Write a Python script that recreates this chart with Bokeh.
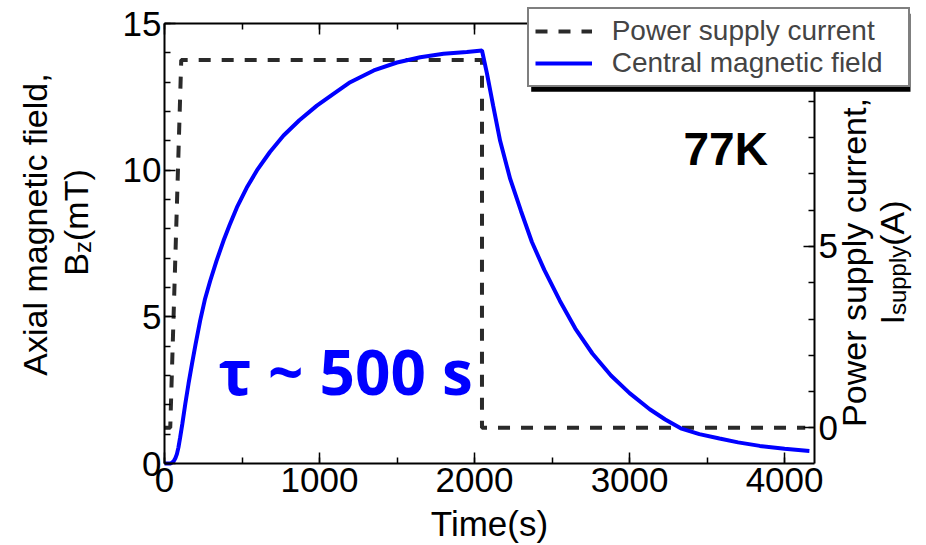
import math
from bokeh.plotting import figure
from bokeh.models import (Range1d, LinearAxis, SingleIntervalTicker, Label,
                          Legend, LegendItem, BoxAnnotation)
from bokeh.embed import file_html
from bokeh.resources import INLINE

# ---------------- data ----------------
field_time = [0, 40, 58, 70, 80, 90, 101, 115, 134, 155, 177, 200, 230, 260,
              295, 335, 381, 420, 467, 530, 596, 680, 768, 870, 983, 1090,
              1198, 1350, 1500, 1650, 1800, 1950, 2048,
              2080, 2120, 2165, 2230, 2300, 2370, 2450, 2550, 2650, 2760,
              2880, 3000, 3130, 3230, 3330, 3450, 3580, 3700, 3840, 4000, 4160]
field_mT = [0, 0.0, 0.07, 0.18, 0.32, 0.55, 0.89, 1.35, 2.03, 2.72, 3.39,
            4.05, 4.87, 5.58, 6.23, 6.9, 7.6, 8.13, 8.73, 9.4, 9.99, 10.62,
            11.18, 11.7, 12.2, 12.6, 13.0, 13.4, 13.67, 13.85, 13.97, 14.03,
            14.08,
            13.3, 12.2, 11.0, 9.7, 8.6, 7.55, 6.6, 5.55, 4.6, 3.75, 3.0, 2.4,
            1.85, 1.5, 1.2, 1.0, 0.85, 0.72, 0.6, 0.5, 0.43]
current_time = [0, 37, 108, 2048, 2048, 4133]
current_A = [0, 0, 10.14, 10.14, 0, 0]

time_limits = (0, 4193)
field_limits = (0, 15)
current_limits = (-0.985, 11.15)
x_ticks_major = 1000
left_ticks_major = 5
right_ticks_major = 5

legend_labels = ["Power supply current", "Central magnetic field"]
annotation_tau = "τ ~ 500 s"
annotation_temp = "77K"

# ---------------- geometry of the axes box on the page ----------------
W, H = 926, 545
BOX_L, BOX_R, BOX_T, BOX_B = 164.0, 814.0, 23.0, 463.0
XS = (BOX_R - BOX_L) / (time_limits[1] - time_limits[0])
YS = (BOX_B - BOX_T) / (field_limits[1] - field_limits[0])
RS = (BOX_B - BOX_T) / (current_limits[1] - current_limits[0])

x_rng = Range1d(time_limits[0] - BOX_L / XS, time_limits[1] + (W - BOX_R) / XS)
y_rng = Range1d(field_limits[0] - (H - BOX_B) / YS, field_limits[1] + BOX_T / YS)
r_rng = Range1d(current_limits[0] - (H - BOX_B) / RS, current_limits[1] + BOX_T / RS)

p = figure(width=W, height=H, output_backend="svg", toolbar_location=None,
           x_range=x_rng, y_range=y_rng, x_axis_type=None, y_axis_type=None,
           min_border=0)
p.extra_y_ranges = {"cur": r_rng}
p.xgrid.visible = False
p.ygrid.visible = False
p.outline_line_color = None
p.background_fill_color = "white"
p.border_fill_color = "white"

FONT = "Liberation Sans"


def style_axis(ax, labels=True, standoff=3):
    ax.axis_line_width = 2
    ax.axis_line_color = "black"
    ax.major_tick_in = 11
    ax.major_tick_out = 0
    ax.minor_tick_in = 6
    ax.minor_tick_out = 0
    ax.major_tick_line_width = 1.5
    ax.minor_tick_line_width = 1.5
    ax.major_tick_line_color = "black"
    ax.minor_tick_line_color = "black"
    ax.major_label_text_font = FONT
    ax.major_label_text_color = "black"
    ax.major_label_standoff = standoff
    if labels:
        ax.major_label_text_font_size = "35px"
    else:
        ax.major_label_text_font_size = "0px"
        ax.major_label_text_alpha = 0


xa = LinearAxis(ticker=SingleIntervalTicker(interval=x_ticks_major, num_minor_ticks=2),
                fixed_location=field_limits[0], bounds=time_limits)
style_axis(xa, standoff=4)
xa.axis_label = "Time(s)"
xa.axis_label_text_font = FONT
xa.axis_label_text_font_style = "normal"
xa.axis_label_text_font_size = "35px"
xa.axis_label_text_color = "black"
xa.axis_label_standoff = 9
p.add_layout(xa, "below")

ta = LinearAxis(ticker=SingleIntervalTicker(interval=x_ticks_major, num_minor_ticks=2),
                fixed_location=field_limits[1], bounds=time_limits)
style_axis(ta, labels=False, standoff=0)
p.add_layout(ta, "above")

ya = LinearAxis(ticker=SingleIntervalTicker(interval=left_ticks_major, num_minor_ticks=5),
                fixed_location=time_limits[0], bounds=field_limits)
style_axis(ya, standoff=3)
p.add_layout(ya, "left")

ra = LinearAxis(y_range_name="cur",
                ticker=SingleIntervalTicker(interval=right_ticks_major, num_minor_ticks=5),
                fixed_location=time_limits[1], bounds=current_limits)
style_axis(ra, standoff=4)
p.add_layout(ra, "right")

# ---------------- glyphs ----------------
r_cur = p.line(current_time, current_A, y_range_name="cur",
               line_color="#2a2a2a", line_width=4, line_dash="12 11")
r_fld = p.line(field_time, field_mT, line_color="#0000ff", line_width=4)


# helpers: convert page pixel positions to data units
def tx(px):
    return time_limits[0] + (px - BOX_L) / XS


def ty(py):
    return field_limits[0] + (BOX_B - py) / YS


# ---------------- legend ----------------
shadow = BoxAnnotation(left=tx(530.7), right=tx(910), top=ty(13.3), bottom=ty(91.3),
                       fill_color="black", fill_alpha=1, line_alpha=0)
p.add_layout(shadow)

legend = Legend(items=[LegendItem(label=legend_labels[0], renderers=[r_cur]),
                       LegendItem(label=legend_labels[1], renderers=[r_fld])],
                location=(526.7, H - 87.3), padding=6, spacing=0, margin=0,
                glyph_width=57, glyph_height=26, label_height=26,
                label_standoff=20, label_width=290,
                label_text_font=FONT, label_text_font_size="28px",
                border_line_color="black", border_line_width=2,
                background_fill_color="white", background_fill_alpha=1)
p.add_layout(legend)


# ---------------- annotations ----------------
def lab(px, py, text, size, align="left", angle=0.0, font=FONT, style="normal",
        color="black"):
    p.add_layout(Label(x=tx(px), y=ty(py), text=text, angle=angle,
                       text_font=font, text_font_style=style,
                       text_font_size=size, text_color=color,
                       text_align=align, text_baseline="alphabetic"))


lab(218, 370, annotation_tau, "62px", font="Open Sans", style="bold", color="#0000ff")
lab(683, 148, annotation_temp, "46px", style="bold")

ANG = math.pi / 2
# left axis label (two lines, rotated)
lab(34, 224, "Axial magnetic field,", "34px", align="center", angle=ANG)
lab(75.5, 275.2, "B", "34px", angle=ANG)
lab(82, 252.5, "z", "24px", angle=ANG)
lab(75.5, 240.5, "(mT)", "34px", angle=ANG)

# right axis label (two lines, rotated, centred on each other)
lab(853, 262, "Power supply current,", "34px", align="center", angle=ANG)
lab(891, 324.1, "I", "34px", angle=ANG)
lab(897, 314.6, "supply", "24px", angle=ANG)
lab(891, 245.2, "(A)", "34px", angle=ANG)

open("out.html", "w").write(file_html(p, INLINE))
